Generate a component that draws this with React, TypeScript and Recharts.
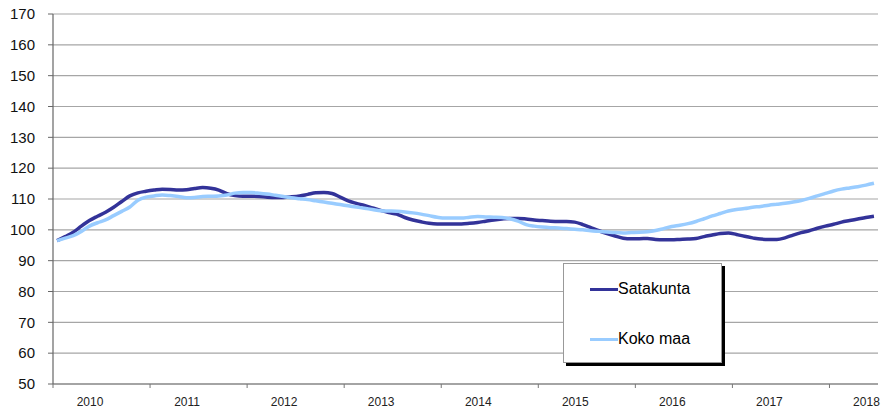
import React from 'react';
import { LineChart, Line, XAxis, YAxis, CartesianGrid } from 'recharts';

const years = ['2010', '2011', '2012', '2013', '2014', '2015', '2016', '2017', '2018'];
const yTicks = [50, 60, 70, 80, 90, 100, 110, 120, 130, 140, 150, 160, 170];

// Monthly index values, Jan 2010 .. Jun 2018
const satakunta = [
  96.5, 97.8, 99.2, 101.2, 103, 104.4, 105.7, 107.3, 109.2, 111, 112, 112.5,
  112.9, 113.2, 113.1, 112.9, 113, 113.4, 113.7, 113.5, 112.9, 111.7, 111.1, 110.9,
  110.9, 110.8, 110.6, 110.5, 110.5, 110.7, 111, 111.5, 112, 112.1, 111.8, 110.6,
  109.4, 108.6, 107.9, 107.1, 106.3, 105.6, 105.1, 104, 103.2, 102.6, 102.1, 101.9,
  101.9, 101.9, 101.9, 102.1, 102.4, 102.8, 103.2, 103.5, 103.7, 103.7, 103.5, 103.2,
  103, 102.8, 102.7, 102.7, 102.5, 101.7, 100.7, 99.7, 98.8, 98, 97.3, 97.1,
  97.1, 97.2, 96.9, 96.8, 96.8, 96.9, 97, 97.2, 97.8, 98.3, 98.8, 99,
  98.5, 97.9, 97.4, 97, 96.9, 96.9, 97.4, 98.3, 99.1, 99.7, 100.5, 101.2,
  101.8, 102.5, 103, 103.5, 104, 104.4,
];

const kokoMaa = [
  96.5, 97.3, 98.1, 99.5, 101.2, 102.3, 103.2, 104.6, 106, 107.4, 109.6, 110.6,
  111, 111.3, 111.1, 110.8, 110.4, 110.5, 110.8, 110.9, 111, 111.3, 111.9, 112.1,
  112.1, 111.9, 111.6, 111.2, 110.8, 110.4, 110.1, 109.8, 109.4, 109, 108.6, 108.2,
  107.8, 107.4, 107, 106.6, 106.2, 106.1, 106, 105.8, 105.5, 105.1, 104.6, 104.1,
  103.8, 103.8, 103.8, 104.1, 104.3, 104.2, 104.1, 104, 103.6, 102.8, 101.7, 101.2,
  100.9, 100.7, 100.6, 100.4, 100.2, 100, 99.7, 99.5, 99.3, 99.1, 99, 99.1,
  99.2, 99.4, 99.8, 100.4, 101.1, 101.5, 102, 102.7, 103.6, 104.5, 105.3, 106.1,
  106.6, 106.9, 107.3, 107.6, 108, 108.3, 108.6, 109, 109.5, 110.2, 111, 111.8,
  112.6, 113.2, 113.6, 114, 114.5, 115.1,
];

const seriesNames = ['Satakunta', 'Koko maa'];
const seriesColors = ['#333399', '#99CCFF'];

const data = satakunta.map((v, i) => ({ m: i + 0.5, Satakunta: v, 'Koko maa': kokoMaa[i] }));
const yearTicks = years.map((_, i) => i * 12);

const FONT = '"Liberation Sans", Arial, sans-serif';

const YearTick = (props: any) => {
  const { x, y, payload } = props;
  const idx = Math.round(payload.value / 12);
  return (
    <text x={x + 37} y={y + 16} textAnchor="middle" fontSize={12} fontFamily={FONT} fill="#222">
      {years[idx]}
    </text>
  );
};

export default function App() {
  return (
    <div style={{ position: 'absolute', left: 0, top: 0, width: 881, height: 413, background: '#fff' }}>
      <LineChart width={881} height={413} data={data} margin={{ top: 14, right: 3, left: 0, bottom: 0 }}>
        <CartesianGrid vertical={false} stroke="#a6a6a6" strokeWidth={1.2} />
        <XAxis
          dataKey="m"
          type="number"
          domain={[0, 102]}
          ticks={yearTicks}
          interval={0}
          height={29}
          tickSize={4}
          tickMargin={2}
          tick={<YearTick />}
          axisLine={{ stroke: '#777', strokeWidth: 1.2 }}
          tickLine={{ stroke: '#777' }}
          allowDataOverflow
        />
        <YAxis
          domain={[50, 170]}
          ticks={yTicks}
          interval={0}
          width={53}
          tickSize={5}
          tickMargin={13}
          axisLine={{ stroke: '#666', strokeWidth: 1.2 }}
          tickLine={{ stroke: '#666' }}
          tick={{ fontSize: 15, fontFamily: FONT, fill: '#111' }}
          allowDataOverflow
        />
        <Line type="monotone" dataKey="Satakunta" stroke={seriesColors[0]} strokeWidth={3.5} dot={false} isAnimationActive={false} />
        <Line type="monotone" dataKey="Koko maa" stroke={seriesColors[1]} strokeWidth={3.5} dot={false} isAnimationActive={false} />
      </LineChart>
      <div
        style={{
          position: 'absolute',
          left: 563,
          top: 263,
          width: 157,
          height: 98,
          background: '#fff',
          border: '1px solid #999',
          boxShadow: '3px 3px 0 #000',
          fontFamily: FONT,
          fontSize: 16,
          color: '#000',
        }}
      >
        {seriesNames.map((name, i) => (
          <div
            key={name}
            style={{ position: 'absolute', left: 26, top: 15 + i * 50, height: 20, display: 'flex', alignItems: 'center' }}
          >
            <div style={{ width: 28, height: 3, background: seriesColors[i] }} />
            <span style={{ lineHeight: '20px' }}>{name}</span>
          </div>
        ))}
      </div>
    </div>
  );
}
